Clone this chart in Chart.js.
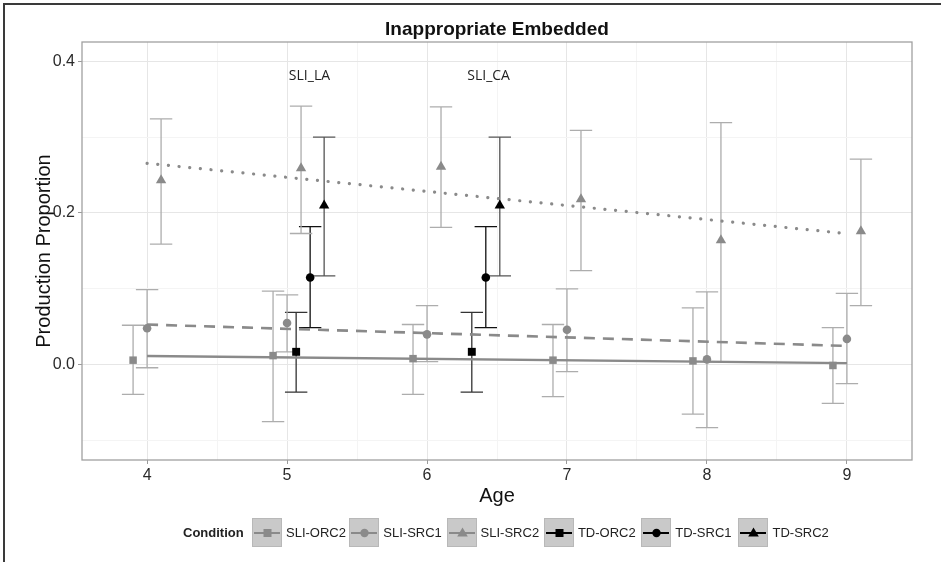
<!DOCTYPE html>
<html>
<head>
<meta charset="utf-8">
<script src="https://cdn.jsdelivr.net/npm/chart.js@4.4.1/dist/chart.umd.min.js"></script>
<style>
    body { margin: 0; background: #fff; }
    #wrap { position: relative; width: 941px; height: 562px; overflow: hidden; background: #fff; }
    #frame { position: absolute; left: 3px; top: 3px; right: -10px; bottom: -10px; border-top: 2px solid #3a3a3a; border-left: 2px solid #3a3a3a; pointer-events: none; }
    canvas { position: absolute; left: 0; top: 0; }
    #title { position: absolute; left: 82px; width: 830px; top: 18px; text-align: center; font: bold 19px "Liberation Sans", Arial, sans-serif; color: #111; }
    #legend { position: absolute; left: 183px; top: 517px; height: 30px; display: flex; align-items: center; font-family: "Liberation Sans", Arial, sans-serif; font-size: 13px; color: #222; }
    #legend .head { font-weight: bold; width: 69px; }
    #legend .item { display: flex; align-items: center; width: 97.3px; }
    #legend .key { width: 30px; height: 29px; background: #c9c9c9; border: 1px solid #b8b8b8; box-sizing: border-box; margin-right: 4px; }
    #legend svg { display: block; }
</style>
</head>
<body>
<div id="wrap">
    <canvas id="chart" width="941" height="562"></canvas>
    <div id="title">Inappropriate Embedded</div>
    <div id="legend"></div>
    <div id="frame"></div>
</div>
<script>
// SLI groups, by age
const ages = [4, 5, 6, 7, 8, 9];
const sliOrc2 = [0.006, 0.012, 0.008, 0.006, 0.005, -0.001];
const sliOrc2Lo = [-0.039, -0.075, -0.039, -0.042, -0.065, -0.051];
const sliOrc2Hi = [0.052, 0.097, 0.053, 0.053, 0.075, 0.049];
const sliSrc1 = [0.048, 0.055, 0.040, 0.046, 0.007, 0.034];
const sliSrc1Lo = [-0.004, 0.017, 0.004, -0.009, -0.083, -0.025];
const sliSrc1Hi = [0.099, 0.092, 0.078, 0.100, 0.096, 0.094];
const sliSrc2 = [0.243, 0.259, 0.261, 0.218, 0.164, 0.176];
const sliSrc2Lo = [0.159, 0.173, 0.181, 0.124, 0.004, 0.078];
const sliSrc2Hi = [0.324, 0.341, 0.340, 0.309, 0.319, 0.271];

// TD comparison groups (language-age and chronological-age matched)
const tdAges = [5.165, 6.42];
const tdOrc2 = [0.017, 0.017];
const tdOrc2Lo = [-0.036, -0.036];
const tdOrc2Hi = [0.069, 0.069];
const tdSrc1 = [0.115, 0.115];
const tdSrc1Lo = [0.049, 0.049];
const tdSrc1Hi = [0.182, 0.182];
const tdSrc2 = [0.210, 0.210];
const tdSrc2Lo = [0.117, 0.117];
const tdSrc2Hi = [0.300, 0.300];

// fitted trend lines for the SLI groups
const fitAges = [4, 9];
const sliOrc2Fit = [0.0115, 0.002];
const sliSrc1Fit = [0.053, 0.0247];
const sliSrc2Fit = [0.2655, 0.1728];

const annoLabels = ['SLI_LA', 'SLI_CA'];
const annoX = [5.16, 6.44];
const annoY = 0.381;

const xTicks = [4, 4.5, 5, 5.5, 6, 6.5, 7, 7.5, 8, 8.5, 9];
const xTickLabels = ['4', '', '5', '', '6', '', '7', '', '8', '', '9'];
const yTicks = [-0.1, 0, 0.1, 0.2, 0.3, 0.4];
const yTickLabels = ['', '0.0', '', '0.2', '', '0.4'];

const conditions = ['SLI-ORC2', 'SLI-SRC1', 'SLI-SRC2', 'TD-ORC2', 'TD-SRC1', 'TD-SRC2'];

const GREY = '#8a8a8a';
const BAR_GREY = '#adadad';
const dodge = { ORC2: -0.1, SRC1: 0, SRC2: 0.1 };
const capHalf = 0.08;
const FONT = "'Liberation Sans', Arial, sans-serif";

function pts(xs, ys, off) {
    return xs.map((a, i) => ({ x: a + off, y: ys[i] }));
}

function pointSet(label, xs, ys, lo, hi, off, style, color, barColor, radius) {
    return {
        label: label,
        data: pts(xs, ys, off),
        errLo: lo, errHi: hi, errColor: barColor,
        pointStyle: style,
        pointRadius: radius,
        backgroundColor: color,
        borderColor: color,
        borderWidth: 0,
        showLine: false
    };
}

function fitSet(label, ys, dash, cap, width) {
    return {
        label: label,
        data: pts(fitAges, ys, 0),
        showLine: true,
        pointRadius: 0,
        borderColor: GREY,
        borderWidth: width,
        borderDash: dash,
        borderCapStyle: cap,
        fill: false
    };
}

const errorBarPlugin = {
    id: 'errorBars',
    beforeDatasetsDraw(chart) {
        const { ctx, scales: { x, y } } = chart;
        chart.data.datasets.forEach(ds => {
            if (!ds.errLo) return;
            ctx.save();
            ctx.strokeStyle = ds.errColor;
            ctx.lineWidth = 1.3;
            ds.data.forEach((p, i) => {
                const px = x.getPixelForValue(p.x);
                const top = y.getPixelForValue(ds.errHi[i]);
                const bot = y.getPixelForValue(ds.errLo[i]);
                const hw = x.getPixelForValue(p.x + capHalf) - px;
                ctx.beginPath();
                ctx.moveTo(px, top); ctx.lineTo(px, bot);
                ctx.moveTo(px - hw, top); ctx.lineTo(px + hw, top);
                ctx.moveTo(px - hw, bot); ctx.lineTo(px + hw, bot);
                ctx.stroke();
            });
            ctx.restore();
        });
    }
};

const panelPlugin = {
    id: 'panel',
    afterDatasetsDraw(chart) {
        const { ctx, chartArea: a, scales: { x, y } } = chart;
        ctx.save();
        ctx.fillStyle = '#222';
        ctx.font = "14px 'Open Sans', sans-serif";
        ctx.textAlign = 'center';
        ctx.textBaseline = 'middle';
        annoLabels.forEach((t, i) => {
            ctx.fillText(t, x.getPixelForValue(annoX[i]), y.getPixelForValue(annoY));
        });
        ctx.strokeStyle = '#a0a0a0';
        ctx.lineWidth = 1.3;
        ctx.strokeRect(a.left, a.top, a.right - a.left, a.bottom - a.top);
        ctx.restore();
    }
};

const isMajorX = c => c.index !== undefined && xTickLabels[c.index] !== '';
const isMajorY = c => c.index !== undefined && yTickLabels[c.index] !== '';

new Chart(document.getElementById('chart'), {
    type: 'scatter',
    data: {
        datasets: [
            pointSet('TD-SRC2', tdAges, tdSrc2, tdSrc2Lo, tdSrc2Hi, dodge.SRC2, 'triangle', '#000', '#555', 6),
            pointSet('TD-SRC1', tdAges, tdSrc1, tdSrc1Lo, tdSrc1Hi, dodge.SRC1, 'circle', '#000', '#111', 4.3),
            pointSet('TD-ORC2', tdAges, tdOrc2, tdOrc2Lo, tdOrc2Hi, dodge.ORC2, 'rect', '#000', '#333', 5.6),
            pointSet('SLI-SRC2', ages, sliSrc2, sliSrc2Lo, sliSrc2Hi, dodge.SRC2, 'triangle', GREY, BAR_GREY, 6),
            pointSet('SLI-SRC1', ages, sliSrc1, sliSrc1Lo, sliSrc1Hi, dodge.SRC1, 'circle', GREY, BAR_GREY, 4.3),
            pointSet('SLI-ORC2', ages, sliOrc2, sliOrc2Lo, sliOrc2Hi, dodge.ORC2, 'rect', GREY, BAR_GREY, 5.3),
            fitSet('SLI-SRC2 fit', sliSrc2Fit, [0.1, 10.6], 'round', 3.2),
            fitSet('SLI-SRC1 fit', sliSrc1Fit, [11, 8], 'butt', 2.6),
            fitSet('SLI-ORC2 fit', sliOrc2Fit, [], 'butt', 2.3)
        ]
    },
    options: {
        responsive: false,
        animation: false,
        events: [],
        layout: { padding: { left: 0, right: 29, top: 42, bottom: 0 } },
        plugins: {
            legend: { display: false },
            tooltip: { enabled: false },
            title: { display: false }
        },
        scales: {
            x: {
                type: 'linear',
                min: 3.535,
                max: 9.465,
                afterFit: s => { s.height = 102; },
                afterBuildTicks: s => { s.ticks = xTicks.map(v => ({ value: v })); },
                border: { display: false },
                grid: {
                    color: c => isMajorX(c) ? '#e6e6e6' : '#f4f4f4',
                    tickColor: c => isMajorX(c) ? '#9a9a9a' : 'rgba(0,0,0,0)',
                    tickLength: 4,
                    lineWidth: 1
                },
                ticks: {
                    autoSkip: false,
                    maxRotation: 0,
                    padding: 2,
                    color: '#2a2a2a',
                    font: { family: FONT, size: 16 },
                    callback: (v, i) => xTickLabels[i]
                },
                title: {
                    display: true,
                    text: 'Age',
                    color: '#111',
                    font: { family: FONT, size: 20 },
                    padding: { top: 0, bottom: 54 }
                }
            },
            y: {
                type: 'linear',
                min: -0.1256,
                max: 0.4254,
                afterFit: s => { s.width = 82; },
                afterBuildTicks: s => { s.ticks = yTicks.map(v => ({ value: v })); },
                border: { display: false },
                grid: {
                    color: c => isMajorY(c) ? '#e6e6e6' : '#f4f4f4',
                    tickColor: c => isMajorY(c) ? '#9a9a9a' : 'rgba(0,0,0,0)',
                    tickLength: 4,
                    lineWidth: 1
                },
                ticks: {
                    autoSkip: false,
                    padding: 3,
                    color: '#2a2a2a',
                    font: { family: FONT, size: 16 },
                    callback: (v, i) => yTickLabels[i]
                },
                title: {
                    display: true,
                    text: 'Production Proportion',
                    color: '#111',
                    font: { family: FONT, size: 20 },
                    padding: { top: 32, bottom: 0 }
                }
            }
        }
    },
    plugins: [errorBarPlugin, panelPlugin]
});

// legend built as html keys
function keyIcon(name) {
    const td = name.startsWith('TD');
    const c = td ? '#000' : GREY;
    let mark;
    if (name.endsWith('ORC2')) mark = `<rect x="10.5" y="10" width="8" height="8" fill="${c}"/>`;
    else if (name.endsWith('SRC1')) mark = `<circle cx="14.5" cy="14" r="4.2" fill="${c}"/>`;
    else mark = `<polygon points="14.5,8.5 19.8,17.5 9.2,17.5" fill="${c}"/>`;
    return `<svg width="28" height="27" viewBox="0 0 28 27"><line x1="1" y1="14" x2="27" y2="14" stroke="${c}" stroke-width="2"/>${mark}</svg>`;
}

document.getElementById('legend').innerHTML =
    '<span class="head">Condition</span>' +
    conditions.map(n => `<span class="item"><span class="key">${keyIcon(n)}</span><span>${n}</span></span>`).join('');
</script>
</body>
</html>
